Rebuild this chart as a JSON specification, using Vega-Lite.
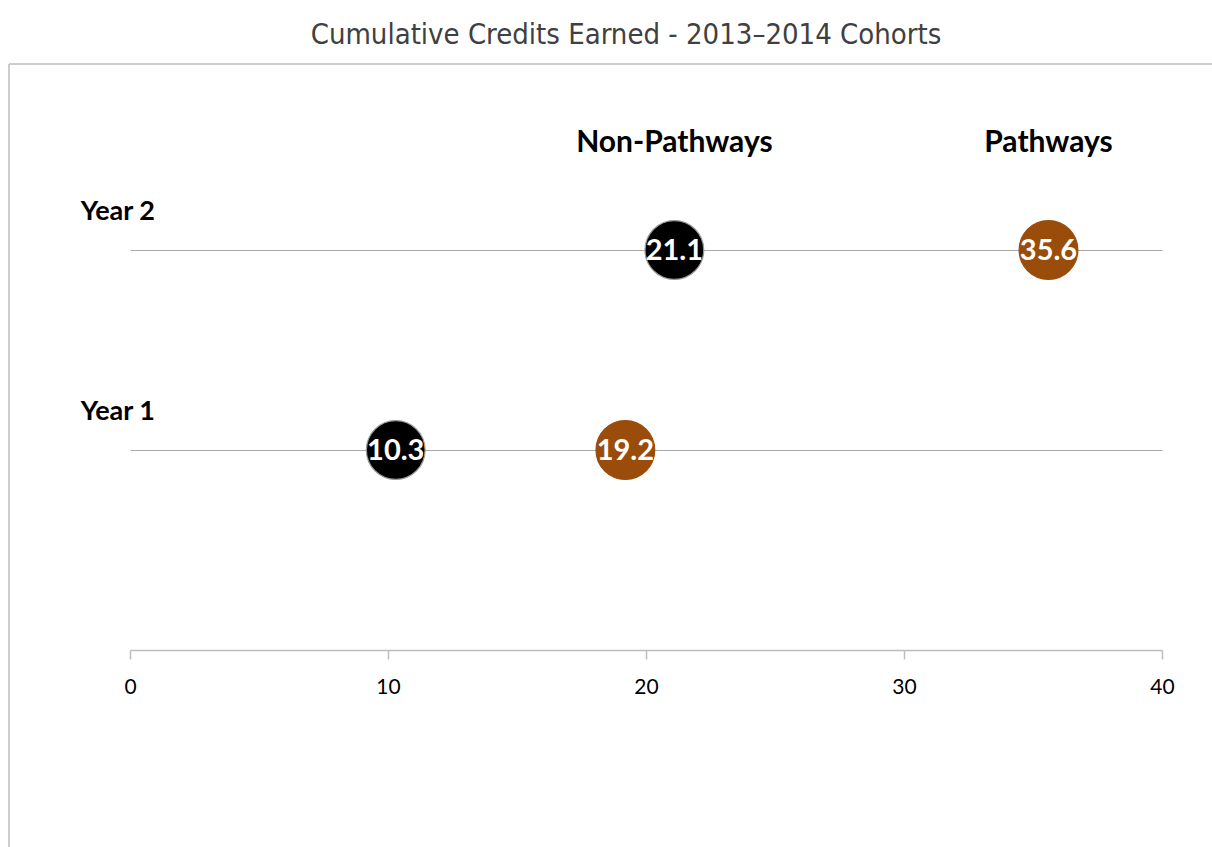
{
  "$schema": "https://vega.github.io/schema/vega-lite/v6.json",
  "autosize": "none",
  "width": 1032,
  "height": 600,
  "padding": {"left": 130, "top": 50, "right": 50, "bottom": 197},
  "background": "white",
  "title": {
    "text": "Cumulative Credits Earned - 2013\u20132014 Cohorts",
    "font": "DejaVu Sans Condensed",
    "fontSize": 29,
    "fontWeight": "normal",
    "color": "#404040",
    "anchor": "middle",
    "baseline": "alphabetic",
    "offset": 7,
    "dy": 30,
    "dx": -20
  },
  "config": {
    "view": {"stroke": null},
    "font": "Lato"
  },
  "datasets": {
    "points": [
      {"year": "Year 2", "level": 2, "group": "Non-Pathways", "credits": 21.1},
      {"year": "Year 2", "level": 2, "group": "Pathways", "credits": 35.6},
      {"year": "Year 1", "level": 1, "group": "Non-Pathways", "credits": 10.3},
      {"year": "Year 1", "level": 1, "group": "Pathways", "credits": 19.2}
    ],
    "years": [
      {"year": "Year 2", "level": 2},
      {"year": "Year 1", "level": 1}
    ]
  },
  "layer": [
    {
      "data": {"values": [{}]},
      "mark": {"type": "rule", "color": "#bdbdbd", "strokeWidth": 1.5},
      "encoding": {
        "x": {"datum": -4.69, "type": "quantitative", "scale": {"domain": [0, 40], "nice": false}},
        "x2": {"datum": 42},
        "y": {"datum": 2.93, "type": "quantitative"}
      }
    },
    {
      "data": {"values": [{}]},
      "mark": {"type": "rule", "color": "#bdbdbd", "strokeWidth": 1.5},
      "encoding": {
        "x": {"datum": -4.69, "type": "quantitative"},
        "y": {"datum": 2.93, "type": "quantitative"},
        "y2": {"datum": -1}
      }
    },
    {
      "data": {"name": "points"},
      "mark": {"type": "circle", "size": 3450, "opacity": 1, "strokeWidth": 1.2},
      "encoding": {
        "x": {
          "field": "credits",
          "type": "quantitative",
          "scale": {"domain": [0, 40], "nice": false},
          "axis": {
            "values": [0, 10, 20, 30, 40],
            "title": null,
            "grid": false,
            "domainColor": "#bdbdbd",
            "domainWidth": 1.5,
            "tickColor": "#bdbdbd",
            "tickWidth": 1.5,
            "tickSize": 9,
            "labelFont": "Lato",
            "labelFontSize": 21,
            "labelColor": "#000000",
            "labelPadding": 17,
            "labelFlush": false
          }
        },
        "y": {
          "field": "level",
          "type": "quantitative",
          "scale": {"domain": [0, 3], "nice": false},
          "axis": {
            "values": [1, 2],
            "title": null,
            "labels": false,
            "ticks": false,
            "domain": false,
            "grid": true,
            "gridColor": "#aaaaaa",
            "gridWidth": 1.2
          }
        },
        "color": {
          "field": "group",
          "type": "nominal",
          "scale": {"domain": ["Non-Pathways", "Pathways"], "range": ["#000000", "#9A4D0B"]},
          "legend": null
        },
        "stroke": {
          "field": "group",
          "type": "nominal",
          "scale": {"domain": ["Non-Pathways", "Pathways"], "range": ["#9a9a9a", "#9A4D0B"]},
          "legend": null
        }
      }
    },
    {
      "data": {"name": "points"},
      "mark": {"type": "text", "color": "white", "fontWeight": "bold", "fontSize": 29, "font": "Lato", "baseline": "middle", "align": "center", "dy": 1},
      "encoding": {
        "x": {"field": "credits", "type": "quantitative"},
        "y": {"field": "level", "type": "quantitative"},
        "text": {"field": "credits", "type": "quantitative", "format": ".1f"}
      }
    },
    {
      "data": {"name": "points"},
      "transform": [{"filter": "datum.level == 2"}],
      "mark": {"type": "text", "color": "black", "fontWeight": "bold", "fontSize": 30, "font": "Lato", "baseline": "middle", "align": "center", "dy": -107},
      "encoding": {
        "x": {"field": "credits", "type": "quantitative"},
        "y": {"field": "level", "type": "quantitative"},
        "text": {"field": "group"}
      }
    },
    {
      "data": {"name": "years"},
      "mark": {"type": "text", "color": "black", "fontWeight": "bold", "fontSize": 27, "font": "Lato", "baseline": "middle", "align": "center", "dy": -38},
      "encoding": {
        "x": {"datum": -0.47, "type": "quantitative"},
        "y": {"field": "level", "type": "quantitative"},
        "text": {"field": "year"}
      }
    }
  ]
}
